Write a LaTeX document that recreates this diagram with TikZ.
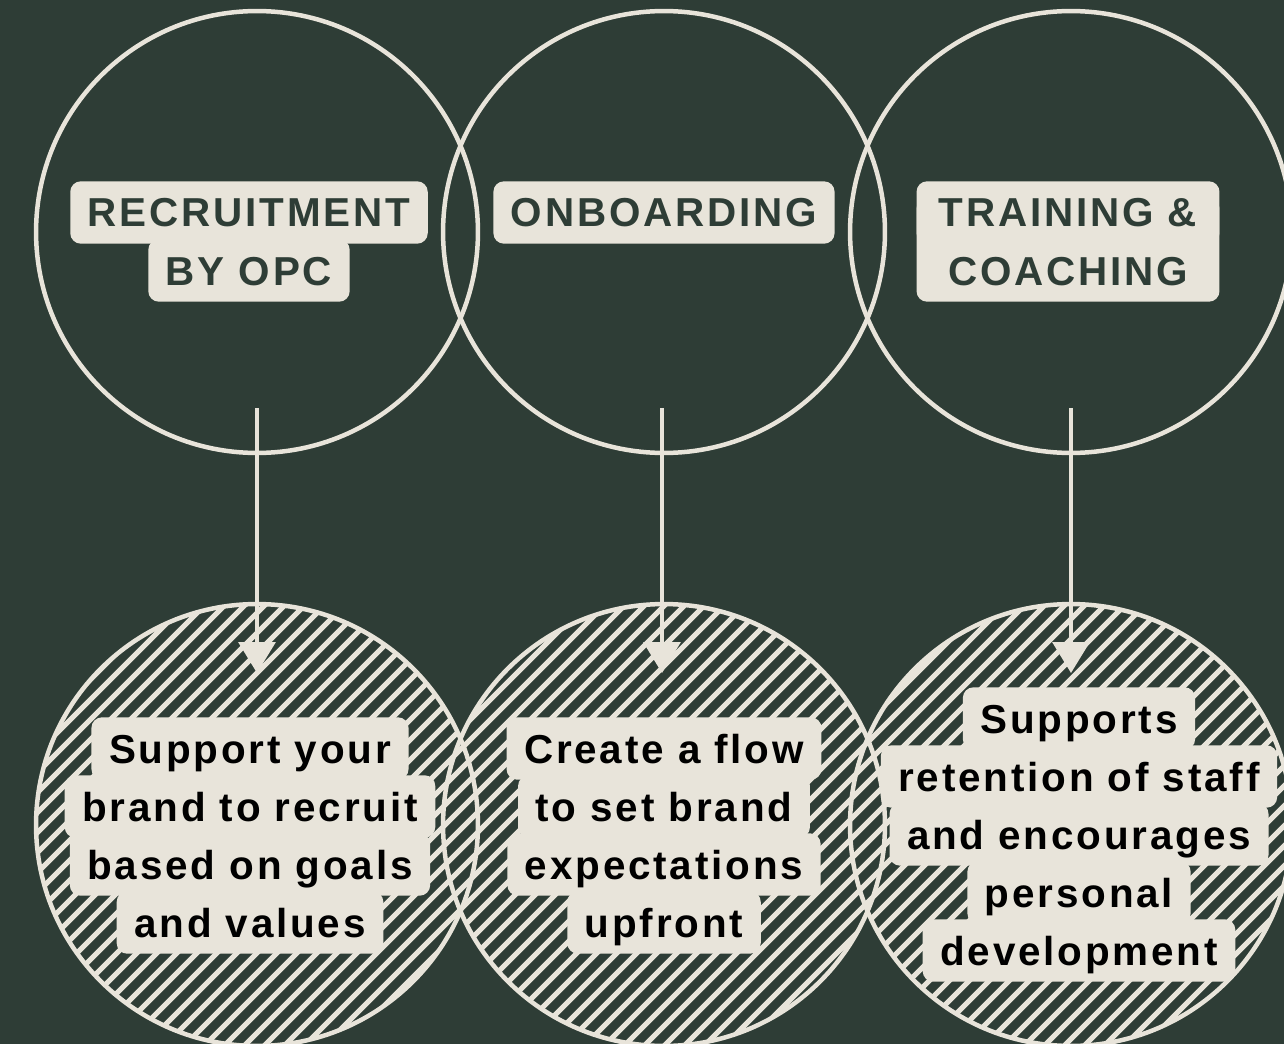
\documentclass[tikz,border=0pt]{standalone}
\usepackage{fontspec}
\setmainfont{Liberation Sans}[LetterSpace=7]
\usetikzlibrary{arrows.meta}
\definecolor{bgreen}{HTML}{2E3D36}
\definecolor{cream}{HTML}{E8E4DA}
\tikzset{
    lbl/.style={anchor=base, fill=cream, rounded corners=6pt, inner xsep=10pt,
        inner ysep=9.5pt, text height=16.5pt, text depth=0pt,
        font=\fontsize{23}{27}\selectfont\bfseries},
    head/.style={lbl, text=bgreen},
    body/.style={lbl, text=black},
    ring/.style={draw=cream, line width=0.09cm},
    link/.style={draw=cream, line width=0.07cm, -{Triangle[width=0.74cm,length=0.62cm]}}
}
\begin{document}
\begin{tikzpicture}[x=0.02cm, y=-0.02cm]
        % background
        \fill[bgreen] (0,0) rectangle (1284,1044);
        \useasboundingbox (0,0) rectangle (1284,1044);
        % top row, open circles
        \foreach \x in {257,664,1071}
        \draw[ring] (\x,232) circle (4.42cm);
        % bottom row, hatched circles
        \begin{scope}
            \clip (257,825) circle (4.42cm) (664,825) circle (4.42cm) (1071,825) circle (4.42cm);
            \foreach \c in {630,650,...,2380}
            \draw[cream, line width=0.1cm] (\c-1070,1070) -- (\c-590,590);
        \end{scope}
        \foreach \x in {257,664,1071}
        \draw[ring] (\x,825) circle (4.42cm);
        % arrows, top to bottom
        \foreach \x/\n in {257/a,662/b,1071/c}
        {
            \coordinate (\n top) at (\x,408);
            \coordinate (\n tip) at (\x,673);
            \draw[link] (\n top) -- (\n tip);
        }
        % titles
        \node[head] (recruit1) at (249,227) {RECRUITMENT};
        \node[head] (recruit2) at (249,285) {BY OPC};
        \node[head] (onboard) at (664,227) {ONBOARDING};
        % one box for both lines: lower line drawn first, taller
        \node[head, minimum width=6.06cm, text height=40pt] (train2) at (1068,285) {COACHING};
        \node[head, minimum width=6.06cm] (train1) at (1068,227) {TRAINING \&};
        % left text
        \node[body] (left1) at (250,763) {Support your};
        \node[body] (left2) at (250,821) {brand to recruit};
        \node[body] (left3) at (250,879) {based on goals};
        \node[body] (left4) at (250,937) {and values};
        % middle text
        \node[body] (mid1) at (664,763) {Create a flow};
        \node[body] (mid2) at (664,821) {to set brand};
        \node[body] (mid3) at (664,879) {expectations};
        \node[body] (mid4) at (664,937) {upfront};
        % right text
        \node[body] (right1) at (1079,733) {Supports};
        \node[body] (right2) at (1079,791) {retention of staff};
        \node[body] (right3) at (1079,849) {and encourages};
        \node[body] (right4) at (1079,907) {personal};
        \node[body] (right5) at (1079,965) {development};
    \end{tikzpicture}
\end{document}
